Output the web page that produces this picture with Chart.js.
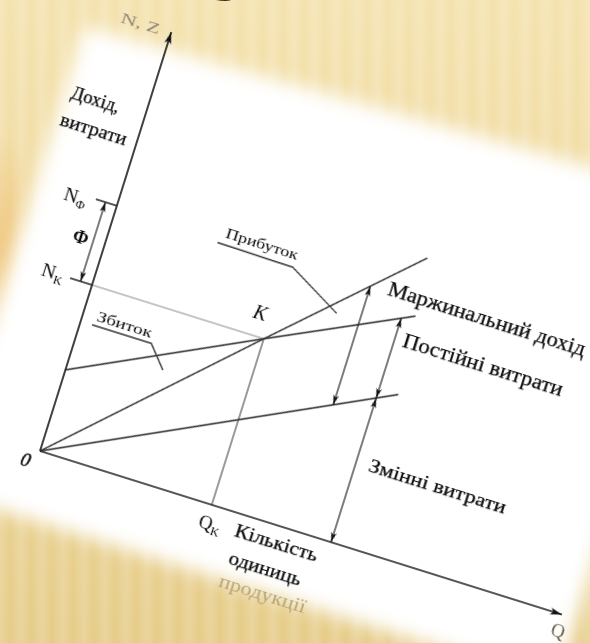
<!DOCTYPE html>
<html>
<head>
<meta charset="utf-8">
<script src="https://cdn.jsdelivr.net/npm/chart.js@4.4.1/dist/chart.umd.min.js"></script>
<style>
  html, body { margin: 0; width: 590px; height: 643px; overflow: hidden; }
  body {
    position: relative;
    background:
      radial-gradient(ellipse 40px 120px at 0px 250px, rgba(238,178,90,0.5), rgba(238,178,90,0)),
      repeating-linear-gradient(90deg, rgba(255,255,255,0.18) 0px, rgba(255,255,255,0.02) 10px, rgba(255,255,255,0.18) 21px),
      linear-gradient(180deg, #f4e2ad 0%, #efd89d 45%, #e5cb86 100%);
  }
  #title {
    position: absolute; left: 214px; top: -116px;
    font: bold 110px/110px "Liberation Serif", "Times New Roman", serif; color: #3b2b20;
    -webkit-text-stroke: 4px #3b2b20;
  }
  #stage {
    position: absolute; left: 40px; top: 451px; width: 0; height: 0;
    transform: rotate(17.4deg); transform-origin: 0 0;
  }
  #paper {
    position: absolute; left: -84px; top: -450px; width: 646px; height: 518px;
    filter: blur(9px);
  }
  #sheet {
    width: 100%; height: 100%; background: #fff;
    clip-path: polygon(0 32px, 646px 10px, 646px 518px, 0 518px);
  }
  #chart { position: absolute; left: -100px; top: -460px; }
</style>
</head>
<body>
<div id="title">у</div>
<div id="stage">
  <div id="paper"><div id="sheet"></div></div>
  <canvas id="chart" width="710" height="560"></canvas>
</div>
<script>
// axes extent (units of the chart frame)
const axisQ = [0, 547];
const axisN = [0, 439];

// revenue N(Q), total costs Z(Q), variable costs
const revenueQ = [0, 180, 312];
const revenueN = [0, 174, 300];
const totalCostQ = [0, 180, 318];
const totalCostZ = [85, 174, 241];
const variableQ = [0, 325];
const variableZ = [0, 161];

// break-even point K and target income N_Ф
const breakEven = [180, 174];
const targetN = 257;

// where the dimension arrows stand
const marginArrowQ = 266;
const fixedArrowQ = 305;

const FONT = '"Liberation Serif", "Times New Roman", serif';
const INK = '#0a0a0a';
const LINE = '#363636';

const pts = (xs, ys) => xs.map((q, i) => ({ x: q, y: ys[i] }));

const lineAt = (xs, ys, q) => {
  for (let i = 1; i < xs.length; i++) {
    if (q <= xs[i] || i === xs.length - 1) {
      const t = (q - xs[i - 1]) / (xs[i] - xs[i - 1]);
      return ys[i - 1] + t * (ys[i] - ys[i - 1]);
    }
  }
};

const seg = (data, color, width) => ({
  data, showLine: true, pointRadius: 0, borderColor: color, borderWidth: width, tension: 0, fill: false,
});

function head(ctx, x, y, dx, dy, len = 10, half = 2.8) {
  const l = Math.hypot(dx, dy);
  const ux = dx / l, uy = dy / l;
  ctx.beginPath();
  ctx.moveTo(x, y);
  ctx.lineTo(x - ux * len - uy * half, y - uy * len + ux * half);
  ctx.lineTo(x - ux * len * 0.75, y - uy * len * 0.75);
  ctx.lineTo(x - ux * len + uy * half, y - uy * len - ux * half);
  ctx.closePath();
  ctx.fill();
}

function text(ctx, str, x, y, size, opts = {}) {
  ctx.save();
  ctx.font = `${opts.style || 'normal'} ${opts.weight || 'normal'} ${size}px ${FONT}`;
  ctx.fillStyle = opts.color || INK;
  ctx.strokeStyle = opts.color || INK;
  ctx.lineWidth = opts.stroke || 0;
  ctx.textBaseline = 'middle';
  ctx.textAlign = 'center';
  const w = ctx.measureText(str).width;
  const sx = opts.width ? opts.width / w : 1;
  ctx.translate(x, y);
  ctx.scale(sx, 1);
  ctx.fillText(str, 0, 0);
  if (opts.stroke) ctx.strokeText(str, 0, 0);
  ctx.restore();
}

function subLabel(ctx, main, sub, x, y, size, opts = {}) {
  ctx.save();
  const big = `${size}px ${FONT}`;
  const small = `${Math.round(size * 0.65)}px ${FONT}`;
  ctx.font = big;
  const w1 = ctx.measureText(main).width;
  ctx.font = small;
  const w2 = ctx.measureText(sub).width;
  const left = x - (w1 + w2) / 2;
  ctx.fillStyle = opts.color || INK;
  ctx.textBaseline = 'middle';
  ctx.textAlign = 'left';
  ctx.font = big;
  ctx.fillText(main, left, y);
  ctx.font = small;
  ctx.fillText(sub, left + w1, y + size * 0.3);
  ctx.restore();
}

const notes = {
  id: 'notes',
  afterDatasetsDraw(chart) {
    const { ctx, scales: { x, y } } = chart;
    const px = v => x.getPixelForValue(v);
    const py = v => y.getPixelForValue(v);
    ctx.save();
    ctx.fillStyle = '#111';

    // axis arrows
    head(ctx, px(axisQ[1]), py(0), 1, 0, 12, 3.5);
    head(ctx, px(0), py(axisN[1]), 0, -1, 12, 3.5);

    // dimension arrows
    const dim = (q, v0, v1) => {
      ctx.strokeStyle = '#111';
      ctx.lineWidth = 1.1;
      ctx.beginPath();
      ctx.moveTo(px(q), py(v0));
      ctx.lineTo(px(q), py(v1));
      ctx.stroke();
      ctx.fillStyle = '#111';
      head(ctx, px(q), py(v0), 0, 1);
      head(ctx, px(q), py(v1), 0, -1);
    };
    dim(-12, breakEven[1], targetN);
    dim(marginArrowQ, lineAt(variableQ, variableZ, marginArrowQ), lineAt(revenueQ, revenueN, marginArrowQ));
    dim(fixedArrowQ, lineAt(variableQ, variableZ, fixedArrowQ), lineAt(totalCostQ, totalCostZ, fixedArrowQ));
    dim(fixedArrowQ, 0, lineAt(variableQ, variableZ, fixedArrowQ));

    // ticks at N_Ф and N_K
    ctx.strokeStyle = '#222';
    ctx.lineWidth = 1.3;
    ctx.beginPath();
    ctx.moveTo(px(-22), py(targetN)); ctx.lineTo(px(0), py(targetN));
    ctx.moveTo(px(-23), py(breakEven[1])); ctx.lineTo(px(0), py(breakEven[1]));
    ctx.stroke();

    // leaders for profit / loss
    ctx.strokeStyle = '#333';
    ctx.lineWidth = 1.3;
    ctx.beginPath();
    ctx.moveTo(px(107), py(252)); ctx.lineTo(px(186), py(251)); ctx.lineTo(px(242), py(220));
    ctx.moveTo(px(12), py(136)); ctx.lineTo(px(74), py(136)); ctx.lineTo(px(93), py(114));
    ctx.stroke();

    // labels
    text(ctx, 'N, Z', px(-32), py(437), 15, { color: '#8f8678', width: 40 });
    text(ctx, 'Дохід,', px(-52), py(351), 18, { width: 50, stroke: 0.25 });
    text(ctx, 'витрати', px(-45), py(322), 18, { width: 69, stroke: 0.25 });
    subLabel(ctx, 'N', 'Ф', px(-42), py(252), 19);
    subLabel(ctx, 'N', 'K', px(-41), py(173), 19);
    text(ctx, 'Ф', px(-25), py(215), 18, { weight: 'bold' });
    text(ctx, 'K', px(169), py(196), 20, { style: 'italic' });
    text(ctx, '0', px(-11), py(-14), 19, { style: 'italic', stroke: 0.4 });
    text(ctx, 'Прибуток', px(150), py(263), 15, { width: 75 });
    text(ctx, 'Збиток', px(43), py(145), 15, { width: 57 });
    text(ctx, 'Маржинальний дохід', px(387), py(258), 20, { width: 206, stroke: 0.25 });
    text(ctx, 'Постійні витрати', px(397), py(213), 20, { width: 167, stroke: 0.25 });
    text(ctx, 'Змінні витрати', px(390), py(84), 19, { width: 143, stroke: 0.25 });
    subLabel(ctx, 'Q', 'K', px(184), py(-20), 19);
    text(ctx, 'Кількість', px(253), py(-18), 19, { width: 86, stroke: 0.25 });
    text(ctx, 'одиниць', px(250), py(-46), 19, { width: 75, stroke: 0.25 });
    text(ctx, 'продукції', px(255), py(-71), 19, { width: 90, color: '#b7a677' });
    text(ctx, 'Q', px(548), py(-18), 19, { color: '#6c6454' });
    ctx.restore();
  },
};

function draw() {
  new Chart('chart', {
    type: 'scatter',
    data: {
      datasets: [
        seg(pts(axisQ, [0, 0]), '#1e1e1e', 1.7),
        seg(pts([0, 0], axisN), '#1e1e1e', 1.7),
        seg(pts(revenueQ, revenueN), LINE, 1.6),
        seg(pts(totalCostQ, totalCostZ), LINE, 1.6),
        seg(pts(variableQ, variableZ), LINE, 1.6),
        seg(pts([0, breakEven[0]], [breakEven[1], breakEven[1]]), '#8c8c8c', 1),
        seg(pts([breakEven[0], breakEven[0]], [breakEven[1], 0]), '#8c8c8c', 1),
      ],
    },
    options: {
      responsive: false,
      animation: false,
      events: [],
      layout: { padding: 0 },
      plugins: { legend: { display: false }, tooltip: { enabled: false } },
      scales: {
        x: { type: 'linear', min: -100, max: 610, display: false },
        y: { type: 'linear', min: -100, max: 460, display: false },
      },
    },
    plugins: [notes],
  });
}

Promise.all([
  document.fonts.load('18px "Liberation Serif"', 'Дохід'),
  document.fonts.load('italic 18px "Liberation Serif"', 'K'),
  document.fonts.load('bold 18px "Liberation Serif"', 'Ф'),
]).then(draw, draw);
</script>
</body>
</html>
